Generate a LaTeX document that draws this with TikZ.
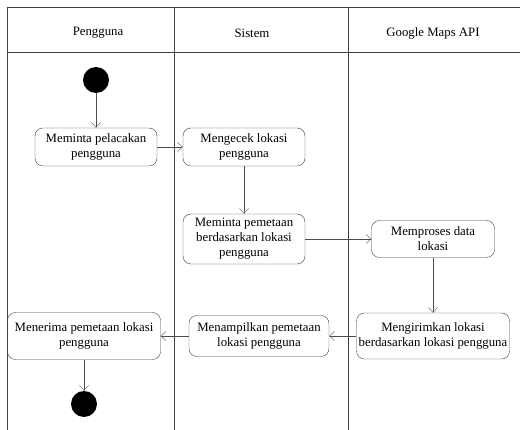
\documentclass[tikz,border=0pt]{standalone}
\usepackage{fontspec}
\setmainfont{Liberation Serif}
\usepackage{tikz}
\usetikzlibrary{calc,arrows.meta}

\begin{document}
\begin{tikzpicture}[x=1pt,y=-1pt,
    activity/.style={draw=black!75,rounded corners=8pt,align=center,inner sep=1pt,
      font=\fontsize{12.8}{15}\selectfont},
    startend/.style={circle,fill=black,minimum size=26pt,inner sep=0pt},
    flow/.style={-{Straight Barb[length=5pt,width=9pt]},draw=black!70},
    lane/.style={draw=black!75,line width=0.8pt}]
    \useasboundingbox (0,0) rectangle (520,430);
    % swimlanes
    \draw[lane] (7,7) -- (520,7);
    \draw[lane] (7,52) -- (520,52);
    \draw[lane] (7,7) -- (7,430);
    \draw[lane] (174,7) -- (174,430);
    \draw[lane] (348,7) -- (348,430);
    \node[font=\fontsize{12.8}{15}\selectfont] (hpengguna) at (98,33) {Pengguna};
    \node[font=\fontsize{12.8}{15}\selectfont] (hsistem) at (252,33) {Sistem};
    \node[font=\fontsize{12.8}{15}\selectfont] (hmaps) at (433,33) {Google Maps API};
    % activities
    \node[startend] (mulai) at (96,80) {};
    \node[activity,minimum width=122pt,minimum height=38pt] (lacak) at (96,147) {Meminta pelacakan\\pengguna};
    \node[activity,minimum width=122pt,minimum height=38pt] (cek) at (244,147) {Mengecek lokasi\\pengguna};
    \node[activity,minimum width=122pt,minimum height=50pt] (petakan) at (244,239) {Meminta pemetaan\\berdasarkan lokasi\\pengguna};
    \node[activity,minimum width=123pt,minimum height=37pt] (proses) at (433,239) {Memproses data\\lokasi};
    \node[activity,minimum width=153pt,minimum height=46pt] (kirim) at (433,336) {Mengirimkan lokasi\\berdasarkan lokasi pengguna};
    \node[activity,minimum width=140pt,minimum height=41pt] (tampil) at (259,336) {Menampilkan pemetaan\\lokasi pengguna};
    \node[activity,minimum width=153pt,minimum height=47pt] (terima) at (84,336) {Menerima pemetaan lokasi\\pengguna};
    \node[startend] (selesai) at (84,404) {};
    % transitions
    \draw[flow] (mulai) -- (lacak);
    \draw[flow] (lacak) -- (cek);
    \draw[flow] (cek) -- (petakan);
    \draw[flow] (petakan) -- (proses);
    \draw[flow] (proses) -- (kirim);
    \draw[flow] (kirim) -- (tampil);
    \draw[flow] (tampil) -- (terima);
    \draw[flow] (terima) -- (selesai);
\end{tikzpicture}
\end{document}
